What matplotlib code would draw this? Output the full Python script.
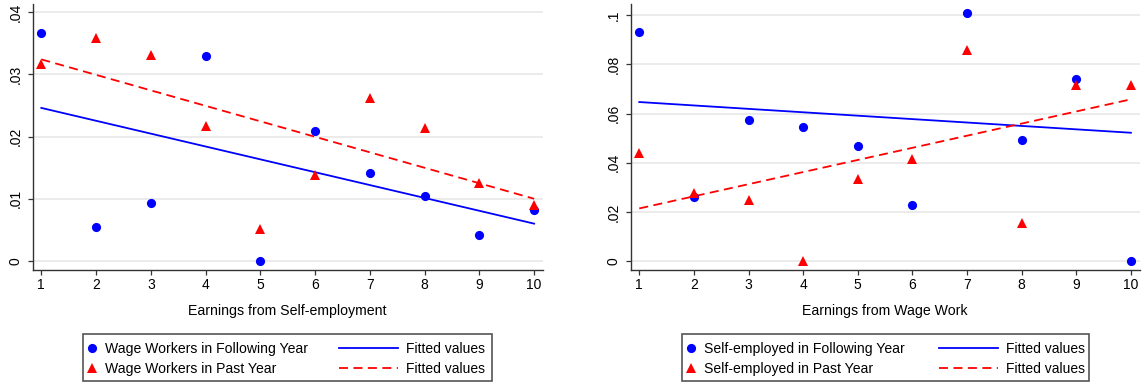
import matplotlib
matplotlib.use("Agg")
import matplotlib.pyplot as plt
from matplotlib.lines import Line2D
from matplotlib.patches import Rectangle

plt.rcParams['font.family'] = ['Liberation Sans', 'DejaVu Sans']

earnings = [1, 2, 3, 4, 5, 6, 7, 8, 9, 10]

# left panel: wage workers by self-employment earnings decile
wage_following = [0.0366, 0.0055, 0.0093, 0.0329, 0.0, 0.0209, 0.0142, 0.0105, 0.0041, 0.0082]
wage_past = [0.0316, 0.0359, 0.0331, 0.0217, 0.0052, 0.0138, 0.0262, 0.0213, 0.0125, 0.0090]
wage_following_fit = [0.0246, 0.0060]
wage_past_fit = [0.0324, 0.0100]
left_yticks = [0, 0.01, 0.02, 0.03, 0.04]
left_yticklabels = ["0", ".01", ".02", ".03", ".04"]

# right panel: self-employed by wage earnings decile
self_following = [0.0931, 0.0262, 0.0574, 0.0547, 0.0468, 0.0227, 0.1011, 0.0491, 0.0741, 0.0]
self_past = [0.0441, 0.0278, 0.0247, 0.0, 0.0332, 0.0414, 0.0860, 0.0153, 0.0718, 0.0718]
self_following_fit = [0.0647, 0.0522]
self_past_fit = [0.0214, 0.0658]
right_yticks = [0, 0.02, 0.04, 0.06, 0.08, 0.1]
right_yticklabels = ["0", ".02", ".04", ".06", ".08", ".1"]

fit_x = [earnings[0], earnings[-1]]

W, H = 1143, 383
fig = plt.figure(figsize=(W / 100, H / 100), dpi=100)

def px_axes(x0, x1, y0, y1):
    return fig.add_axes([x0 / W, 1 - y1 / H, (x1 - x0) / W, (y1 - y0) / H])

ax1 = px_axes(32.7, 542.7, 4, 270)
ax2 = px_axes(630.7, 1139.5, 4, 270)

BLUE = "#0000ff"
RED = "#ff0000"

panels = [
    (ax1, wage_following, wage_past, wage_following_fit, wage_past_fit,
     left_yticks, left_yticklabels, (-0.00145, 0.0413), "Earnings from Self-employment",
     "Wage Workers in Following Year", "Wage Workers in Past Year", 86.7, 339.3, 82.7, 492.3),
    (ax2, self_following, self_past, self_following_fit, self_past_fit,
     right_yticks, right_yticklabels, (-0.00366, 0.1046), "Earnings from Wage Work",
     "Self-employed in Following Year", "Self-employed in Past Year", 685.7, 939.3, 681.7, 1089),
]

for (ax, foll, past, foll_fit, past_fit, yt, ytl, ylim, xlabel,
     lab1, lab2, col1_x, col2_x, box_x0, box_x1) in panels:
    ax.plot(earnings, foll, linestyle="none", marker="o", markersize=6.6,
            color=BLUE, markeredgewidth=0, zorder=3)
    ax.plot(earnings, past, linestyle="none", marker="^", markersize=7.4,
            color=RED, markeredgewidth=0, zorder=3)
    ax.plot(fit_x, foll_fit, color=BLUE, lw=1.3, zorder=2)
    ax.plot(fit_x, past_fit, color=RED, lw=1.3, dashes=(5, 3), zorder=2)

    ax.set_xlim(0.843, 10.157)
    ax.set_ylim(*ylim)
    ax.set_xticks(earnings)
    ax.set_yticks(yt)
    ax.set_yticklabels(ytl, rotation=90, va="center")
    ax.grid(axis="y", color="#e8e8e8", lw=1.2)
    ax.set_axisbelow(True)
    for s in ["top", "right"]:
        ax.spines[s].set_visible(False)
    for s in ["left", "bottom"]:
        ax.spines[s].set_linewidth(1.0)
        ax.spines[s].set_color("#333333")
    ax.tick_params(axis="both", length=3.6, width=0.9, color="#333333", labelsize=10)
    ax.tick_params(axis="x", pad=2.5)
    ax.tick_params(axis="y", pad=3.5)
    ax.set_xlabel(xlabel, fontsize=10.2, labelpad=8)

    h1 = Line2D([], [], linestyle="none", marker="o", markersize=6.6, color=BLUE, markeredgewidth=0)
    h2 = Line2D([], [], linestyle="none", marker="^", markersize=7.4, color=RED, markeredgewidth=0)
    h3 = Line2D([], [], color=BLUE, lw=1.3)
    h4 = Line2D([], [], color=RED, lw=1.3, dashes=(5, 3))

    leg_y = 1 - 359 / H
    leg1 = fig.legend(handles=[h1, h2], labels=[lab1, lab2], loc="center left",
                      bbox_to_anchor=(col1_x / W, leg_y), frameon=False,
                      borderpad=0, borderaxespad=0, handlelength=0.8,
                      handletextpad=0.5, labelspacing=0.45, fontsize=10.1)
    leg2 = fig.legend(handles=[h3, h4], labels=["Fitted values", "Fitted values"],
                      loc="center left", bbox_to_anchor=(col2_x / W, leg_y), frameon=False,
                      borderpad=0, borderaxespad=0, handlelength=4.25,
                      handletextpad=0.55, labelspacing=0.45, fontsize=10)
    fig.add_artist(Rectangle((box_x0 / W, 1 - 380.7 / H), (box_x1 - box_x0) / W, 46.4 / H,
                             transform=fig.transFigure, fill=False,
                             edgecolor="#555555", lw=1.2))

fig.savefig("out.png", dpi=100)
